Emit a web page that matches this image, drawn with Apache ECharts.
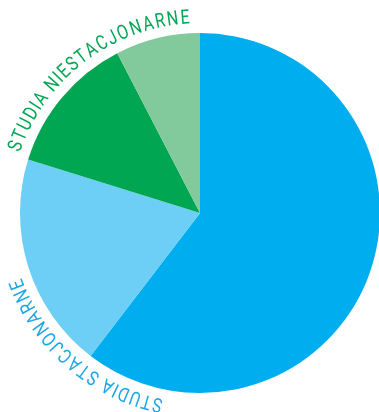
<!DOCTYPE html>
<html>
<head>
<meta charset="utf-8">
<script src="https://cdn.jsdelivr.net/npm/echarts@6/dist/echarts.min.js"></script>
<style>
  html, body { margin: 0; padding: 0; background: #fff; }
  #chart { width: 379px; height: 412px; }
</style>
</head>
<body>
<div id="chart"></div>
<script>
// slices, clockwise from 12 o'clock
var categories = ["Studia stacjonarne A", "Studia stacjonarne B", "Studia niestacjonarne A", "Studia niestacjonarne B"];
var values = [60.4, 19.4, 12.6, 7.6];
var colors = ["#00aeef", "#6dcff6", "#00a651", "#82ca9c"];

// curved labels: text, colour, arc span (deg clockwise from top)
var labelTexts = ["STUDIA NIESTACJONARNE", "STUDIA STACJONARNE"];
var labelColors = ["#00a651", "#1aa7e4"];
var labelSpans = [[290, 355.6], [192.5, 248.6]];

var CX = 200, CY = 213, R = 180;
var TEXT_R = 195;
var FONT = "400 20px Roboto";
var SCALE_X = 0.8;

var chart = echarts.init(document.getElementById("chart"));

var ctx = document.createElement("canvas").getContext("2d");
ctx.font = FONT;

function arcText(text, color, span) {
  var chars = text.split("");
  var widths = chars.map(function (c) { return ctx.measureText(c).width * SCALE_X; });
  // distance between first and last char centres
  var total = 0;
  for (var i = 0; i < widths.length - 1; i++) total += (widths[i] + widths[i + 1]) / 2;
  var k = ((span[1] - span[0]) * Math.PI / 180) / total;
  var els = [];
  var a = span[0] * Math.PI / 180;
  chars.forEach(function (c, i) {
    if (i > 0) a += (widths[i - 1] + widths[i]) / 2 * k;
    els.push({
      type: "text",
      x: CX + TEXT_R * Math.sin(a),
      y: CY - TEXT_R * Math.cos(a),
      rotation: -a,
      scaleX: SCALE_X,
      silent: true,
      style: {
        text: c,
        fill: color,
        font: FONT,
        textAlign: "center",
        textVerticalAlign: "middle"
      }
    });
  });
  return els;
}

var graphics = [];
labelTexts.forEach(function (t, i) {
  graphics = graphics.concat(arcText(t, labelColors[i], labelSpans[i]));
});

chart.setOption({
  animation: false,
  series: [
    {
      type: "pie",
      center: [CX, CY],
      radius: R,
      startAngle: 90,
      clockwise: true,
      label: { show: false },
      labelLine: { show: false },
      itemStyle: { borderWidth: 0 },
      emphasis: { disabled: true },
      data: categories.map(function (c, i) {
        return { name: c, value: values[i], itemStyle: { color: colors[i] } };
      })
    }
  ],
  graphic: graphics
});
</script>
</body>
</html>
